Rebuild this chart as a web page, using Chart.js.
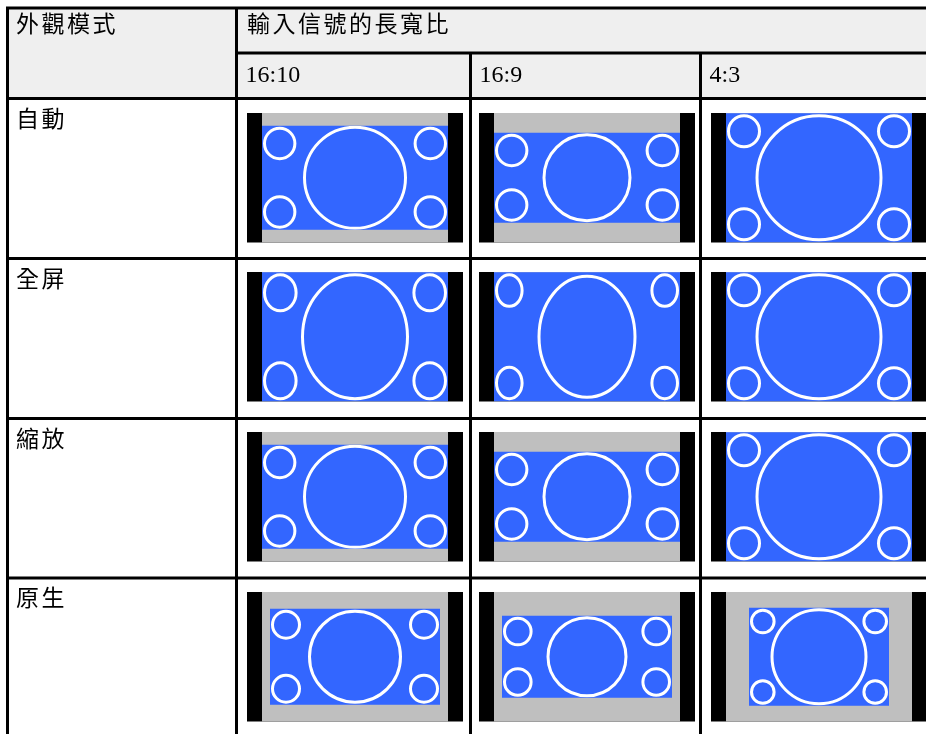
<!DOCTYPE html>
<html>
<head>
<meta charset="utf-8">
<script src="https://cdn.jsdelivr.net/npm/chart.js@4/dist/chart.umd.min.js"></script>
<style>
  html, body { margin: 0; padding: 0; background: #ffffff; }
  canvas { display: block; }
</style>
</head>
<body>
<canvas id="modeChart" width="926" height="734"></canvas>
<script>
// Table labels
const modeHeader = '外觀模式';
const ratioHeader = '輸入信號的長寬比';
const modes = ['自動', '全屏', '縮放', '原生'];
const ratios = ['16:10', '16:9', '4:3'];

// Picture shown on the screen, in screen units (screen = 186 x 129), one row per mode
const pictureWidth = [
    [186, 186, 186],
    [186, 186, 186],
    [186, 186, 186],
    [170, 170, 140]
];
const pictureHeight = [
    [104, 90, 129],
    [129, 129, 129],
    [104, 90, 129],
    [96, 82, 98]
];
// Centre circle radii (x, y) and corner circle radii (x, y)
const bigRx = [
    [52, 44.5, 63.5],
    [54, 49.5, 63.5],
    [52, 44.5, 63.5],
    [47, 40.5, 48.5]
];
const bigRy = [
    [52, 44.5, 63.5],
    [63.5, 62, 63.5],
    [52, 44.5, 63.5],
    [47, 40.5, 48.5]
];
const smallRx = [
    [16.7, 16.7, 17],
    [17.3, 14.3, 17],
    [16.7, 16.7, 17],
    [15, 14.8, 12.8]
];
const smallRy = [
    [16.7, 16.7, 17],
    [19.5, 17.3, 17],
    [16.7, 16.7, 17],
    [15, 14.8, 12.8]
];

document.addEventListener('DOMContentLoaded', function() {
    const canvas = document.getElementById('modeChart');
    const ctx = canvas.getContext('2d');

    // layout of the table (page units)
    const colLines = [7.5, 236.5, 470.5, 700.5];
    const rowLines = [98.5, 258.5, 418.5, 578];
    const topLine = 8;
    const headerMid = 53;
    const panelLeft = [247, 479, 711];
    const panelTop = [113, 272, 432, 592];
    const barW = 15;
    const screenW = 186;
    const panelH = 129.5;
    const cjkFont = '23px "Noto Sans CJK TC", sans-serif';
    const numFont = '24px "Liberation Serif", serif';

    const tablePlugin = {
        id: 'tablePlugin',
        afterDatasetsDraw(chart) {
            const c = chart.ctx;
            const sx = chart.scales.x;
            const sy = chart.scales.y;
            const px = v => sx.getPixelForValue(v);
            const py = v => sy.getPixelForValue(v);
            const W = 926;

            function rect(x, y, w, h, color) {
                c.fillStyle = color;
                c.fillRect(px(x), py(y), px(x + w) - px(x), py(y + h) - py(y));
            }
            function ellipse(cx, cy, rx, ry) {
                c.beginPath();
                c.ellipse(px(cx), py(cy), px(cx + rx) - px(cx) - 1.5, py(cy + ry) - py(cy) - 1.5, 0, 0, Math.PI * 2);
                c.stroke();
            }

            c.save();
            // header background
            rect(colLines[0], topLine, W - colLines[0], rowLines[0] - topLine, '#efefef');

            // screens
            modes.forEach((m, r) => {
                ratios.forEach((ra, k) => {
                    const x0 = panelLeft[k];
                    const y0 = panelTop[r];
                    rect(x0, y0, screenW + 2 * barW, panelH, '#000000');
                    rect(x0 + barW, y0, screenW, panelH, '#bfbfbf');
                    const pw = pictureWidth[r][k];
                    const ph = pictureHeight[r][k];
                    const left = x0 + barW + (screenW - pw) / 2;
                    const top = y0 + (panelH - ph) / 2;
                    rect(left, top, pw, ph, '#3366ff');

                    c.save();
                    c.beginPath();
                    c.rect(px(left), py(top), px(left + pw) - px(left), py(top + ph) - py(top));
                    c.clip();
                    c.strokeStyle = '#ffffff';
                    c.lineWidth = 3;
                    ellipse(left + pw / 2, top + ph / 2, bigRx[r][k], bigRy[r][k]);
                    const srx = smallRx[r][k];
                    const sry = smallRy[r][k];
                    const ins = 1;
                    ellipse(left + srx + ins, top + sry + ins, srx, sry);
                    ellipse(left + pw - srx - ins, top + sry + ins, srx, sry);
                    ellipse(left + srx + ins, top + ph - sry - ins, srx, sry);
                    ellipse(left + pw - srx - ins, top + ph - sry - ins, srx, sry);
                    c.restore();
                });
            });

            // grid lines
            c.strokeStyle = '#000000';
            c.lineWidth = 3;
            c.beginPath();
            c.moveTo(px(colLines[0] - 1.5), py(topLine));
            c.lineTo(px(W), py(topLine));
            c.moveTo(px(colLines[1]), py(headerMid));
            c.lineTo(px(W), py(headerMid));
            rowLines.forEach(y => {
                c.moveTo(px(colLines[0]), py(y));
                c.lineTo(px(W), py(y));
            });
            colLines.forEach((x, i) => {
                c.moveTo(px(x), py(i < 2 ? topLine : headerMid));
                c.lineTo(px(x), py(734));
            });
            c.stroke();

            // text
            c.fillStyle = '#000000';
            c.textAlign = 'left';
            c.textBaseline = 'alphabetic';
            c.font = cjkFont;
            c.letterSpacing = '2.5px';
            c.fillText(modeHeader, px(16), py(32));
            c.fillText(ratioHeader, px(247), py(32));
            modes.forEach((m, r) => {
                c.fillText(m, px(16), py(rowLines[r] + 28));
            });
            c.font = numFont;
            c.letterSpacing = '0px';
            ratios.forEach((ra, k) => {
                c.fillText(ra, px(colLines[k + 1] + 9), py(82));
            });
            c.restore();
        }
    };

    new Chart(ctx, {
        type: 'scatter',
        data: { datasets: [{ data: [], pointRadius: 0 }] },
        options: {
            responsive: false,
            animation: false,
            events: [],
            layout: { padding: 0 },
            plugins: { legend: { display: false }, tooltip: { enabled: false } },
            scales: {
                x: { type: 'linear', min: 0, max: 926, display: false },
                y: { type: 'linear', min: 0, max: 734, reverse: true, display: false }
            }
        },
        plugins: [tablePlugin]
    });
});
</script>
</body>
</html>
